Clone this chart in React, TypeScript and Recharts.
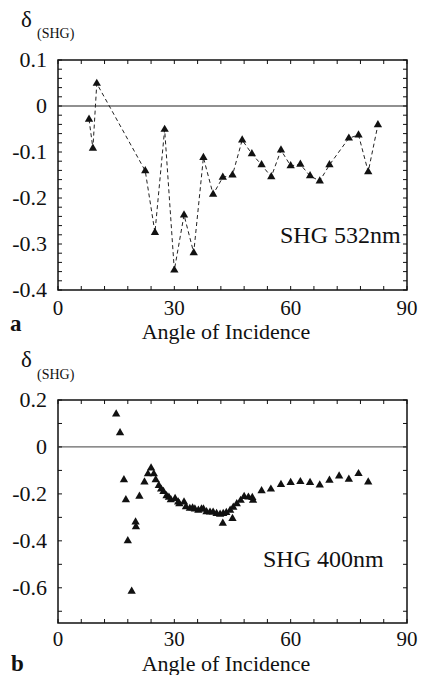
import React from 'react';
import { ComposedChart, Scatter, XAxis, YAxis, ReferenceLine, ReferenceArea, Symbols } from 'recharts';

// ---- Data ----
const angleTicks = [0, 6, 12, 18, 24, 30, 36, 42, 48, 54, 60, 66, 72, 78, 84, 90];
const angleLabels = [0, 30, 60, 90];

const topYTicks = [-0.4, -0.38, -0.36, -0.34, -0.32, -0.3, -0.28, -0.26, -0.24, -0.22, -0.2, -0.18, -0.16, -0.14, -0.12, -0.1, -0.08, -0.06, -0.04, -0.02, 0, 0.02, 0.04, 0.06, 0.08, 0.1];
const topYLabels = [-0.4, -0.3, -0.2, -0.1, 0, 0.1];

const bottomYTicks = [-0.7, -0.6, -0.5, -0.4, -0.3, -0.2, -0.1, 0, 0.1, 0.2];
const bottomYLabels = [-0.6, -0.4, -0.2, 0, 0.2];

const topAngles = [8, 9, 10, 22.5, 25, 27.5, 30, 32.5, 35, 37.5, 40, 42.5, 45, 47.5, 50, 52.5, 55, 57.5, 60, 62.5, 65, 67.5, 70, 75, 77.5, 80, 82.5];
const topDelta = [-0.029, -0.092, 0.049, -0.141, -0.275, -0.051, -0.357, -0.237, -0.319, -0.112, -0.192, -0.155, -0.15, -0.074, -0.104, -0.128, -0.154, -0.096, -0.13, -0.127, -0.152, -0.163, -0.128, -0.07, -0.063, -0.143, -0.041];

const bottomAngles = [15, 16, 17, 17.5, 18, 19, 20, 20.1, 21, 22.3, 23.2, 24, 24.7, 25.2, 26, 26.6, 27.2, 28, 28.6, 29.1, 30.2, 31, 31.3, 32.5, 33, 34, 34.7, 35.3, 36.2, 37, 37.5, 38.3, 39.2, 40, 40.9, 41.8, 42.5, 42.6, 43.4, 44.4, 45, 45.2, 46.1, 47.1, 48, 49.1, 50.1, 50.3, 52.5, 54.9, 57.5, 60, 62.5, 65, 67.5, 70, 72.5, 75, 77.5, 80];
const bottomDelta = [0.14, 0.06, -0.14, -0.225, -0.4, -0.615, -0.32, -0.34, -0.21, -0.15, -0.115, -0.09, -0.115, -0.14, -0.165, -0.18, -0.19, -0.208, -0.215, -0.225, -0.22, -0.235, -0.242, -0.235, -0.255, -0.262, -0.26, -0.265, -0.27, -0.265, -0.265, -0.276, -0.278, -0.278, -0.284, -0.287, -0.325, -0.284, -0.28, -0.27, -0.305, -0.257, -0.242, -0.228, -0.211, -0.214, -0.216, -0.228, -0.187, -0.18, -0.16, -0.152, -0.148, -0.152, -0.162, -0.142, -0.124, -0.138, -0.114, -0.15];

const topData = topAngles.map((x, i) => ({ x, y: topDelta[i] }));
const bottomData = bottomAngles.map((x, i) => ({ x, y: bottomDelta[i] }));

// ---- Styles ----
const FONT = "'Liberation Serif', 'DejaVu Serif', 'Times New Roman', serif";
const TXT: React.CSSProperties = { fontFamily: FONT };
const INK = '#111';
const PLOT_W = 349;
const TICK = 4;

const isIn = (arr: number[], v: number) => arr.some((a) => Math.abs(a - v) < 1e-6);
const fmt = (v: number) => (Math.abs(v) < 1e-9 ? '0' : String(Math.round(v * 100) / 100));

function makeXTick(plotH: number, labelDy: number) {
  return (props: any) => {
    const { x, y, payload } = props;
    const v = payload.value;
    return (
      <g>
        <line x1={x} y1={y} x2={x} y2={y - TICK} stroke={INK} strokeWidth={1} />
        <line x1={x} y1={y - plotH} x2={x} y2={y - plotH + TICK} stroke={INK} strokeWidth={1} />
        {isIn(angleLabels, v) && (
          <text x={x} y={y + labelDy} textAnchor="middle" style={TXT} fontSize={21} fill={INK}>
            {fmt(v)}
          </text>
        )}
      </g>
    );
  };
}

function makeYTick(labels: number[]) {
  return (props: any) => {
    const { x, y, payload } = props;
    const v = payload.value;
    return (
      <g>
        <line x1={x} y1={y} x2={x + TICK} y2={y} stroke={INK} strokeWidth={1} />
        <line x1={x + PLOT_W} y1={y} x2={x + PLOT_W - TICK} y2={y} stroke={INK} strokeWidth={1} />
        {isIn(labels, v) && (
          <text x={x - 11} y={y + 7} textAnchor="end" style={TXT} fontSize={22} fill={INK}>
            {fmt(v)}
          </text>
        )}
      </g>
    );
  };
}

const triangle = (p: any) => <Symbols cx={p.cx} cy={p.cy} type="triangle" size={30} fill={INK} />;

const TopChart = () => (
  <ComposedChart width={421} height={340} data={topData} margin={{ top: 60, right: 14, bottom: 0, left: 0 }}>
    <XAxis
      type="number"
      dataKey="x"
      domain={[0, 90]}
      ticks={angleTicks}
      interval={0}
      allowDataOverflow
      height={50}
      tickSize={0}
      tickMargin={0}
      axisLine={false}
      tickLine={false}
      tick={makeXTick(230, 25)}
    />
    <YAxis
      type="number"
      dataKey="y"
      domain={[-0.4, 0.1]}
      ticks={topYTicks}
      interval={0}
      allowDataOverflow
      width={58}
      tickSize={0}
      tickMargin={0}
      axisLine={false}
      tickLine={false}
      tick={makeYTick(topYLabels)}
    />
    <ReferenceArea x1={0} x2={90} y1={-0.4} y2={0.1} fill="none" stroke={INK} strokeWidth={1.5} ifOverflow="visible" />
    <ReferenceLine y={0} stroke="#222" strokeWidth={1.2} />
    <Scatter
      data={topData}
      dataKey="y"
      isAnimationActive={false}
      line={{ stroke: '#222', strokeWidth: 1, strokeDasharray: '4 3' }}
      shape={triangle}
    />
  </ComposedChart>
);

const BottomChart = () => (
  <ComposedChart width={421} height={335} data={bottomData} margin={{ top: 60, right: 14, bottom: 0, left: 0 }}>
    <XAxis
      type="number"
      dataKey="x"
      domain={[0, 90]}
      ticks={angleTicks}
      interval={0}
      allowDataOverflow
      height={52}
      tickSize={0}
      tickMargin={0}
      axisLine={false}
      tickLine={false}
      tick={makeXTick(223, 23)}
    />
    <YAxis
      type="number"
      dataKey="y"
      domain={[-0.75, 0.2]}
      ticks={bottomYTicks}
      interval={0}
      allowDataOverflow
      width={58}
      tickSize={0}
      tickMargin={0}
      axisLine={false}
      tickLine={false}
      tick={makeYTick(bottomYLabels)}
    />
    <ReferenceArea x1={0} x2={90} y1={-0.75} y2={0.2} fill="none" stroke={INK} strokeWidth={1.5} ifOverflow="visible" />
    <ReferenceLine y={0} stroke="#666" strokeWidth={1.2} />
    <Scatter data={bottomData} dataKey="y" isAnimationActive={false} shape={triangle} />
  </ComposedChart>
);

export default function App() {
  return (
    <div style={{ position: 'absolute', left: 0, top: 0, width: 421, height: 675, background: '#fff', overflow: 'hidden' }}>
      <div style={{ position: 'absolute', left: 0, top: 0 }}>
        <TopChart />
      </div>
      <div style={{ position: 'absolute', left: 0, top: 340 }}>
        <BottomChart />
      </div>
      <svg width={421} height={675} style={{ position: 'absolute', left: 0, top: 0, pointerEvents: 'none' }}>
        <g style={TXT} fill={INK}>
          <text x={21} y={27} fontSize={23} style={TXT}>δ</text>
          <text x={37} y={38} fontSize={14} style={TXT}>(SHG)</text>
          <text x={280} y={243} fontSize={24} style={TXT}>SHG 532nm</text>
          <text x={226} y={339} fontSize={22} textAnchor="middle" style={TXT}>Angle of Incidence</text>
          <text x={10} y={331} fontSize={23} fontWeight="bold" style={TXT}>a</text>

          <text x={21} y={367} fontSize={23} style={TXT}>δ</text>
          <text x={37} y={379} fontSize={14} style={TXT}>(SHG)</text>
          <text x={263} y={567} fontSize={24} style={TXT}>SHG 400nm</text>
          <text x={226} y={671} fontSize={22} textAnchor="middle" style={TXT}>Angle of Incidence</text>
          <text x={11} y={671} fontSize={23} fontWeight="bold" style={TXT}>b</text>
        </g>
      </svg>
    </div>
  );
}
